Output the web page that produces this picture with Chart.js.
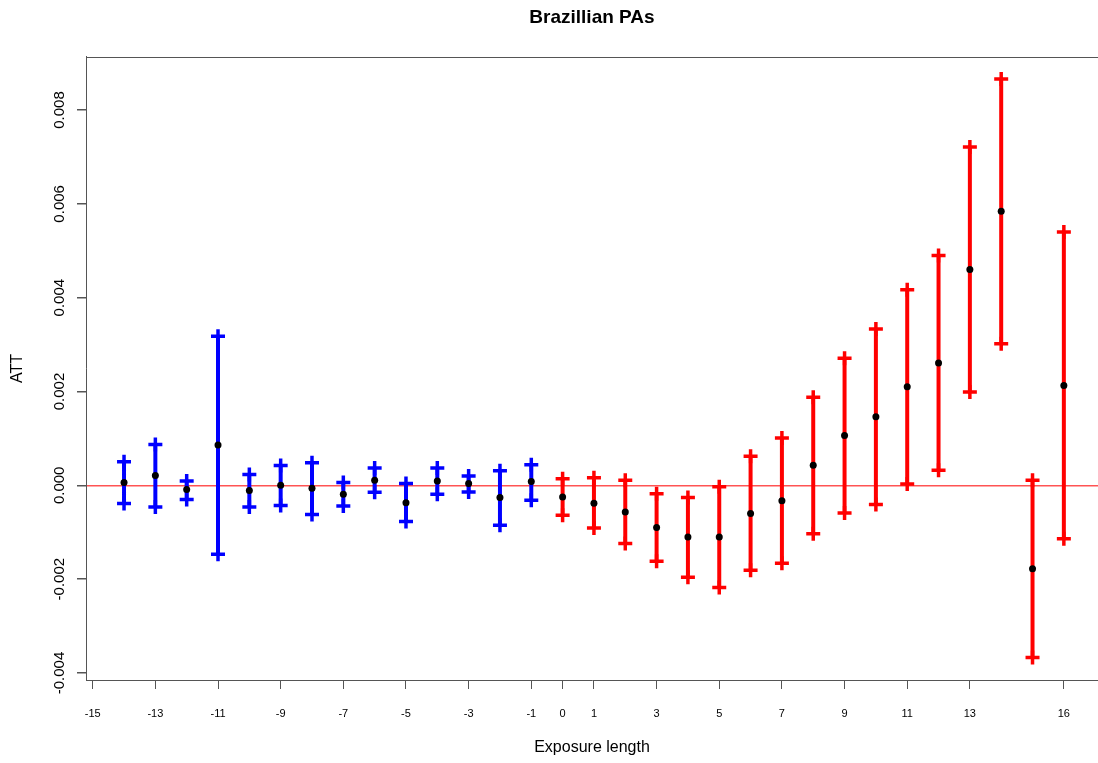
<!DOCTYPE html>
<html lang="en">
<head>
<meta charset="UTF-8">
<title>Brazillian PAs</title>
<script src="https://cdn.jsdelivr.net/npm/chart.js"></script>
<style>
    html, body { margin: 0; background: #fff; overflow: hidden; }
    #wrap { width: 1098px; height: 763px; }
    canvas { display: block; }
</style>
</head>
<body>
<div id="wrap"><canvas id="attChart" width="1098" height="763"></canvas></div>
<script>
// exposure lengths before treatment (blue) and after (red)
const preLength = [-14, -13, -12, -11, -10, -9, -8, -7, -6, -5, -4, -3, -2, -1];
const preEst = [0.00006, 0.00021, -0.00009, 0.00086, -0.00011, 0.0, -0.00006, -0.00019, 0.00011, -0.00037, 0.00009, 0.00004, -0.00026, 0.00008];
const preHi  = [0.0005, 0.00087, 0.00009, 0.00318, 0.00023, 0.00042, 0.00048, 0.00006, 0.00037, 0.00004, 0.00037, 0.0002, 0.00031, 0.00044];
const preLo  = [-0.00039, -0.00046, -0.0003, -0.00147, -0.00046, -0.00043, -0.00062, -0.00044, -0.00015, -0.00077, -0.00019, -0.00014, -0.00085, -0.00032];

const postLength = [0, 1, 2, 3, 4, 5, 6, 7, 8, 9, 10, 11, 12, 13, 14, 15, 16];
const postEst = [-0.00025, -0.00038, -0.00057, -0.0009, -0.0011, -0.0011, -0.0006, -0.00033, 0.00043, 0.00106, 0.00146, 0.0021, 0.00261, 0.0046, 0.00584, -0.00178, 0.00213];
const postHi  = [0.00014, 0.00016, 0.00011, -0.00018, -0.00026, -0.00003, 0.00062, 0.00101, 0.00188, 0.00271, 0.00333, 0.00417, 0.0049, 0.00721, 0.00866, 0.00011, 0.0054];
const postLo  = [-0.00064, -0.00091, -0.00124, -0.00162, -0.00196, -0.00218, -0.00181, -0.00166, -0.00103, -0.00059, -0.00041, 0.00003, 0.00032, 0.00199, 0.00302, -0.00367, -0.00114];

const xTicks = [-15, -13, -11, -9, -7, -5, -3, -1, 0, 1, 3, 5, 7, 9, 11, 13, 16];
const yTicks = [-0.004, -0.002, 0, 0.002, 0.004, 0.006, 0.008];
// grid colour per y tick: only the zero line is shown
const yGridColors = yTicks.map(v => v === 0 ? 'rgba(255,40,40,0.8)' : 'rgba(0,0,0,0)');

Chart.defaults.font.family = '"Liberation Sans", Arial, sans-serif';
Chart.defaults.color = '#000';

// one segment per exposure length, null point breaks the line
function errorBars(xs, lo, hi) {
    const pts = [];
    xs.forEach((x, i) => {
        pts.push({ x: x, y: lo[i] }, { x: x, y: hi[i] }, { x: x, y: null });
    });
    return pts;
}

function estimates(xs, ys) {
    return xs.map((x, i) => ({ x: x, y: ys[i] }));
}

function barSet(data, color) {
    return {
        data: data,
        showLine: true,
        spanGaps: false,
        borderColor: color,
        borderWidth: 4,
        pointStyle: 'cross',
        pointRadius: 7,
        pointHoverRadius: 7,
        pointBorderWidth: 3.5,
        pointBorderColor: color,
        pointBackgroundColor: color,
        order: 1
    };
}

// R draws a box round the plot; axes give left and bottom, this gives the top
const frameTop = {
    id: 'frameTop',
    afterDraw(chart) {
        const { ctx, chartArea: a } = chart;
        const y = Math.round(a.top) + 0.5;
        ctx.save();
        ctx.strokeStyle = '#555';
        ctx.lineWidth = 1;
        ctx.beginPath();
        ctx.moveTo(a.left, y);
        ctx.lineTo(a.right, y);
        ctx.stroke();
        ctx.restore();
    }
};

new Chart(document.getElementById('attChart'), {
    type: 'scatter',
    data: {
        datasets: [
            {
                data: estimates(preLength, preEst).concat(estimates(postLength, postEst)),
                pointRadius: 3.5,
                pointHoverRadius: 3.5,
                pointBorderWidth: 0,
                pointBackgroundColor: '#000',
                order: 0
            },
            barSet(errorBars(preLength, preLo, preHi), '#0000ff'),
            barSet(errorBars(postLength, postLo, postHi), '#ff0000')
        ]
    },
    options: {
        responsive: false,
        animation: false,
        events: [],
        layout: { padding: 0, autoPadding: false },
        plugins: {
            legend: { display: false },
            tooltip: { enabled: false },
            title: {
                display: true,
                fullSize: false,
                text: 'Brazillian PAs',
                font: { size: 19, weight: 'bold' },
                color: '#000',
                padding: { top: 6, bottom: 28 }
            }
        },
        scales: {
            x: {
                type: 'linear',
                min: -15.214,
                max: 17.09,
                afterBuildTicks: s => { s.ticks = xTicks.map(v => ({ value: v })); },
                afterFit: s => {
                    s.height = 83;
                    s.paddingLeft = 0;
                    s.paddingRight = 0;
                },
                ticks: {
                    autoSkip: false,
                    minRotation: 0,
                    maxRotation: 0,
                    padding: 18,
                    font: { size: 11 },
                    color: '#000',
                    callback: v => String(v)
                },
                grid: { drawOnChartArea: false, tickLength: 9, tickColor: '#555' },
                border: { display: true, color: '#555' },
                title: {
                    display: true,
                    text: 'Exposure length',
                    font: { size: 16 },
                    color: '#000',
                    padding: { top: 0, bottom: 5.4 }
                }
            },
            y: {
                type: 'linear',
                min: -0.00415,
                max: 0.009135,
                afterBuildTicks: s => { s.ticks = yTicks.map(v => ({ value: v })); },
                afterFit: s => {
                    s.width = 86;
                    s.paddingTop = 0;
                    s.paddingBottom = 0;
                },
                ticks: {
                    minRotation: 90,
                    maxRotation: 90,
                    crossAlign: 'center',
                    padding: -4,
                    font: { size: 15 },
                    color: '#000',
                    callback: v => v.toFixed(3)
                },
                grid: {
                    color: yGridColors,
                    lineWidth: 1.5,
                    tickColor: '#555',
                    tickLength: 9
                },
                border: { display: true, color: '#555' },
                title: {
                    display: true,
                    text: 'ATT',
                    font: { size: 16 },
                    color: '#000',
                    padding: { top: 8.4, bottom: 0 }
                }
            }
        }
    },
    plugins: [frameTop]
});
</script>
</body>
</html>
